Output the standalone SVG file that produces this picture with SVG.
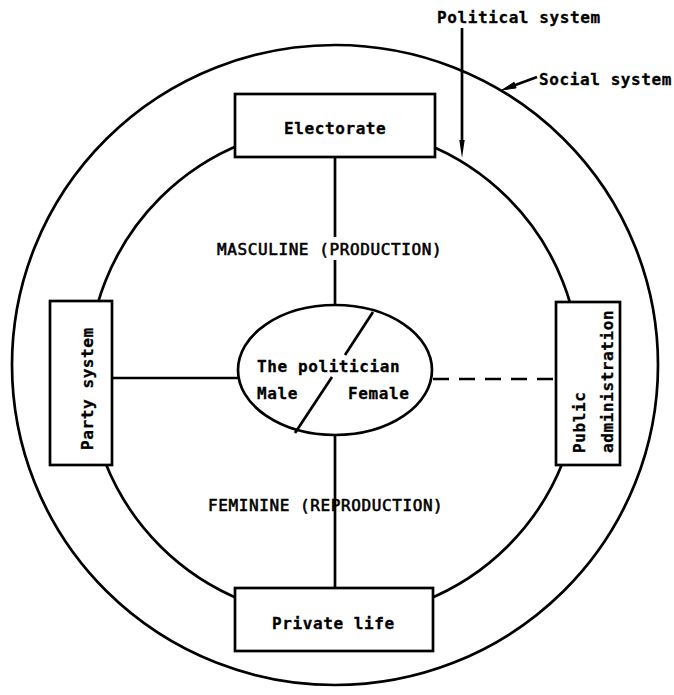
<svg xmlns="http://www.w3.org/2000/svg" width="674" height="695" viewBox="0 0 674 695">
<style>
.ln{stroke:#000;stroke-width:2.7;fill:none}
.bx{stroke:#000;stroke-width:2.7;fill:#fff}
.t{font-family:"DejaVu Sans Mono","Liberation Mono",monospace;font-size:16px;font-weight:bold;letter-spacing:0.6px;fill:#000;stroke:#000;stroke-width:0.3}
.c{font-family:"DejaVu Sans Mono","Liberation Mono",monospace;font-size:16px;font-weight:normal;letter-spacing:0.6px;fill:#000;stroke:#000;stroke-width:0.6}
</style>
<rect width="674" height="695" fill="#fff"/>
<g id="social-system">
<ellipse class="ln" cx="335" cy="365" rx="323" ry="320"/>
<text class="t" x="539" y="85" letter-spacing="0.2px">Social system</text>
</g>
<g id="political-system">
<circle class="ln" cx="334" cy="372" r="246"/>
<text class="t" x="437" y="23">Political system</text>
</g>
<g id="connectors">
<line class="ln" x1="462" y1="28" x2="462" y2="145"/>
<polygon points="462,158 459.3,140 464.7,140" fill="#000"/>
<line class="ln" x1="537" y1="77" x2="512" y2="86.3"/>
<polygon points="502,90 516.1,87.9 514.1,82.3" fill="#000" stroke="#000" stroke-width="1"/>
<line class="ln" x1="335" y1="157" x2="335" y2="237"/>
<line class="ln" x1="335" y1="260" x2="335" y2="305"/>
<line class="ln" x1="335" y1="435" x2="335" y2="588"/>
<line class="ln" x1="112" y1="378" x2="238" y2="378"/>
<line class="ln" x1="433" y1="379" x2="556" y2="379" stroke-dasharray="16 10"/>
</g>
<g id="masculine-label">
<text class="c" x="217" y="255">MASCULINE (PRODUCTION)</text>
</g>
<g id="feminine-label">
<text class="c" x="208" y="511">FEMININE (REPRODUCTION)</text>
</g>
<g id="electorate">
<rect class="bx" x="235" y="94" width="200" height="63"/>
<text class="t" x="284" y="134">Electorate</text>
</g>
<g id="private-life">
<rect class="bx" x="235" y="588" width="198" height="63"/>
<text class="t" x="272" y="629">Private life</text>
</g>
<g id="party-system">
<rect class="bx" x="50" y="301" width="62" height="164"/>
<text class="t" transform="translate(93,450) rotate(-90)">Party system</text>
</g>
<g id="public-administration">
<rect class="bx" x="556" y="302" width="64" height="163"/>
<text class="t" transform="translate(585,453) rotate(-90)">Public</text>
<text class="t" transform="translate(613,453) rotate(-90)">administration</text>
</g>
<g id="politician">
<ellipse class="bx" cx="335" cy="370" rx="97" ry="65"/>
<line class="ln" x1="373" y1="312" x2="345" y2="355"/>
<line class="ln" x1="332" y1="377" x2="295" y2="433"/>
<text class="t" x="257" y="372">The politician</text>
<text class="t" x="257" y="399">Male</text>
<text class="t" x="348" y="399">Female</text>
</g>
</svg>
